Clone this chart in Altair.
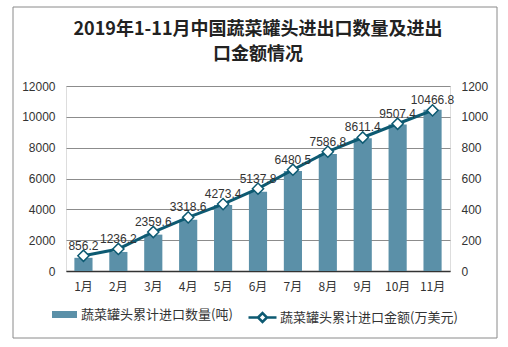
import altair as alt
import pandas as pd

months = ["1月", "2月", "3月", "4月", "5月", "6月", "7月", "8月", "9月", "10月", "11月"]
qty = [856.2, 1236.2, 2359.6, 3318.6, 4273.4, 5137.8, 6480.5, 7586.8, 8611.4, 9507.4, 10466.8]
amount = [99, 143, 253, 348, 434, 534, 657, 774, 866, 955, 1042]
qty_name = "蔬菜罐头累计进口数量(吨)"
amt_name = "蔬菜罐头累计进口金额(万美元)"
title_lines = ["2019年1-11月中国蔬菜罐头进出口数量及进出", "口金额情况"]
left_ticks = [0, 2000, 4000, 6000, 8000, 10000, 12000]
right_ticks = [0, 200, 400, 600, 800, 1000, 1200]

BAR = "#5b90a8"
LINE = "#0d5a72"
FONT = "Liberation Sans"
CJK = "Noto Sans CJK SC"

df = pd.DataFrame({"month": months, "qty": qty, "amount": amount,
                   "s1": qty_name, "s2": amt_name})

W, H = 384, 185
PL, PT = 66, 86

xenc = alt.X("month:N", sort=months, title=None,
             scale=alt.Scale(paddingInner=0.48, paddingOuter=0.24),
             axis=alt.Axis(labelAngle=0, ticks=False, labelPadding=10, labelFontSize=12,
                           labelFont=CJK, labelColor="#333333", domainColor="#333333",
                           domainWidth=1.5))

base = alt.Chart(df)

bars = base.mark_bar(color=BAR).encode(
    x=xenc,
    y=alt.Y("qty:Q", title=None, scale=alt.Scale(domain=[0, 12000]),
            axis=alt.Axis(values=left_ticks, format="d", grid=True, gridColor="#8c8c8c",
                          ticks=False, domain=False, labelPadding=11, labelFontSize=12,
                          labelFont=FONT, labelColor="#333333")),
    color=alt.Color("s1:N", scale=alt.Scale(domain=[qty_name], range=[BAR]),
                    legend=alt.Legend(title=None, orient="none", legendX=-14, legendY=216,
                                      symbolType="M-1,-0.28L1,-0.28L1,0.28L-1,0.28Z",
                                      symbolSize=625, symbolStrokeWidth=0,
                                      labelFont=CJK, labelFontSize=13, labelColor="#333333",
                                      labelOffset=4, labelLimit=400)),
)

yr = alt.Y("amount:Q", title=None, scale=alt.Scale(domain=[0, 1200]),
           axis=alt.Axis(orient="right", values=right_ticks, format="d", grid=False,
                         ticks=False, domain=False, labelPadding=11, labelFontSize=12,
                         labelFont=FONT, labelColor="#333333"))

line = base.mark_line(strokeWidth=3).encode(
    x=xenc, y=yr,
    stroke=alt.Stroke("s2:N", scale=alt.Scale(domain=[amt_name], range=[LINE]),
                      legend=alt.Legend(title=None, orient="none", legendX=181, legendY=216,
                                        symbolType="M-1,0L-0.32,0M0.32,0L1,0M-0.32,0L0,-0.32L0.32,0L0,0.32Z",
                                        symbolSize=784, symbolStrokeWidth=2.5,
                                        symbolFillColor="white",
                                        labelFont=CJK, labelFontSize=13, labelColor="#333333",
                                        labelOffset=2, labelLimit=400)),
)

points = base.mark_point(shape="diamond", filled=True, fill="white", stroke=LINE,
                         strokeWidth=1.5, size=125, opacity=1).encode(x=xenc, y=yr)

labels = base.mark_text(dy=-6, baseline="alphabetic", fontSize=12, font=FONT,
                        color="#333333").encode(
    x=xenc, y=yr, text=alt.Text("qty:Q", format=".1f"))

border = alt.Chart(pd.DataFrame({"a": [0]})).mark_rect(
    fill=None, stroke="#8a8a8a", strokeWidth=1).encode(
    x=alt.value(13 - PL), x2=alt.value(497 - PL),
    y=alt.value(7 - PT), y2=alt.value(338 - PT))

right = alt.layer(line, points, labels)

chart = alt.layer(border, bars, right).resolve_scale(
    y="independent", color="independent", stroke="independent"
).properties(
    width=W, height=H,
    title=alt.Title(text=title_lines, fontSize=18, fontWeight="bold", font=CJK,
                    color="#222222", anchor="middle", lineHeight=25, offset=14, dy=71),
    padding={"left": PL, "top": PT, "right": 508 - PL - W, "bottom": 347 - PT - H},
    autosize=alt.AutoSizeParams(type="none"),
).configure_view(stroke=None).configure(background="white")

chart.save("out.html", embed_options={"renderer": "svg", "actions": False})
